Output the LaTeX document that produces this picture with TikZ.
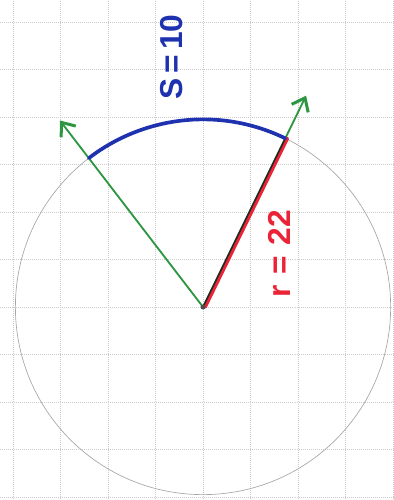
\documentclass[tikz,border=0pt]{standalone}
\usepackage{fontspec}
\setsansfont{Liberation Sans}
\usetikzlibrary{arrows.meta}
\definecolor{penGreen}{RGB}{45,150,65}
\definecolor{penBlue}{RGB}{30,50,175}
\definecolor{penRed}{RGB}{235,35,55}
\tikzset{
 gridline/.style={step=1.0, gray!40, very thin, densely dotted},
 greenarrow/.style={penGreen, line width=1.1pt, -{Straight Barb[length=7pt,width=11pt,line width=1.8pt]}},
 bluepen/.style={penBlue, line width=2.2pt, line cap=round},
 redpen/.style={penRed, line width=2.2pt, line cap=round},
 handlabel/.style={rotate=90, font=\sffamily\bfseries\fontsize{19}{19}\selectfont}
}
\begin{document}
\begin{tikzpicture}
 \useasboundingbox (-4.274,-4.063) rectangle (4.0,6.463);
 % paper grid
 \draw[gridline] (-4.274,-4.063) grid (4.0,6.463);
 \draw[gray!70, thin] (0,0) circle (3.95);
 \coordinate (O) at (0,0);
 \coordinate (A) at (127.5:3.95);
 \coordinate (B) at (64:3.95);
 \coordinate (tipA) at (127.5:4.95);
 \coordinate (tipB) at (64:4.95);
 \draw[greenarrow] (O) -- (tipA);
 \draw[greenarrow] (O) -- (tipB);
 \draw[redpen] ([xshift=1.2pt]O) -- ([xshift=1.2pt]B);
 \draw[black!85, line width=0.9pt] (O) -- (B);
 \draw[bluepen] (A) arc[start angle=127.5, end angle=64, radius=3.95];
 \fill[black!70] (O) circle (1.5pt);
 \node[handlabel, text=penBlue] (sLabel) at (-0.67,5.26) {S\,=\,10};
 \node[handlabel, text=penRed] (rLabel) at (1.6,1.12) {r\,\,=\,\,22};
\end{tikzpicture}
\end{document}
